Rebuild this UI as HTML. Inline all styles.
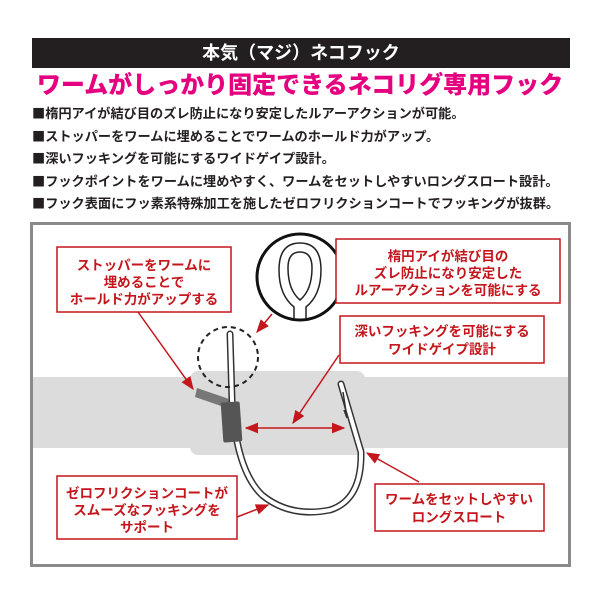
<!DOCTYPE html>
<html><head><meta charset="utf-8"><style>
html,body{margin:0;padding:0;background:#fff;}
body{width:600px;height:600px;overflow:hidden;position:relative;font-family:"Liberation Sans","Noto Sans CJK JP",sans-serif;}
.bar{position:absolute;left:32px;top:38px;width:538px;height:30px;background:#231f20;color:#fff;font-weight:bold;font-size:18px;line-height:30px;text-align:center;}
.title{position:absolute;left:0;top:70px;width:600px;text-align:center;color:#e4007f;font-weight:900;font-size:24px;line-height:32px;}
.list{position:absolute;left:32px;top:102px;font-size:13.2px;line-height:21.5px;color:#231f20;font-weight:bold;white-space:nowrap;}
.sq{font-family:"Noto Sans CJK JP",sans-serif;}
</style></head><body>
<div class="bar">本気（マジ）ネコフック</div>
<div class="title">ワームがしっかり固定できるネコリグ専用フック</div>
<div class="list"><span class="sq">■</span>楕円アイが結び目のズレ防止になり安定したルアーアクションが可能。<br><span class="sq">■</span>ストッパーをワームに埋めることでワームのホールド力がアップ。<br><span class="sq">■</span>深いフッキングを可能にするワイドゲイプ設計。<br><span class="sq">■</span>フックポイントをワームに埋めやすく、ワームをセットしやすいロングスロート設計。<br><span class="sq">■</span>フック表面にフッ素系特殊加工を施したゼロフリクションコートでフッキングが抜群。</div>
<svg width="600" height="600" style="position:absolute;left:0;top:0" font-family="Liberation Sans, Noto Sans CJK JP, sans-serif" font-weight="bold">
<defs><marker id="a" viewBox="0 0 10 10" refX="9" refY="5" markerWidth="9" markerHeight="9" orient="auto-start-reverse"><path d="M0,1 L10,5 L0,9 z" fill="#c4161c"/></marker></defs>
<rect x="31.5" y="223.5" width="538" height="342" fill="#fff" stroke="#8a8a8a" stroke-width="3"/>
<rect x="33" y="377" width="535" height="71" fill="#dcdcdc"/>
<rect x="190" y="371" width="175" height="84" rx="8" fill="#dcdcdc"/>
<path d="M230,334 L232,400 Q236,470 262,495 Q290,518 330,510 Q362,500 361,452 L341,384" fill="none" stroke="#333" stroke-width="7" stroke-linecap="round" stroke-linejoin="round"/>
<path d="M230,334 L232,400 Q236,470 262,495 Q290,518 330,510 Q362,500 361,452 L341,384" fill="none" stroke="#fff" stroke-width="4" stroke-linecap="round" stroke-linejoin="round"/>
<path d="M343,392 L347,418 L344,410" fill="none" stroke="#333" stroke-width="1.5"/>
<path d="M197,388 L229,399 L227,408 L195,397 z" fill="#777"/>
<rect x="222" y="402" width="19" height="40" rx="2" fill="#555" transform="rotate(-4 231 422)"/>
<circle cx="228" cy="357" r="30" fill="none" stroke="#222" stroke-width="2" stroke-dasharray="5,4"/>
<circle cx="300" cy="277" r="43" fill="#fff" stroke="#111" stroke-width="3"/>
<path d="M294,319 L294,307 Q279,295 279,270 Q279,243 300,243 Q321,243 321,270 Q321,295 306,307 L306,319" fill="none" stroke="#222" stroke-width="1.5"/>
<path d="M300,300 Q288,290 288,268 Q288,252 300,252 Q312,252 312,268 Q312,290 300,300 z" fill="none" stroke="#222" stroke-width="1.5"/>
<g stroke="#c4161c" stroke-width="1.5" fill="none">
<rect x="57" y="247" width="174" height="65" fill="#fff"/>
<rect x="336" y="239" width="224" height="64" fill="#fff"/>
<rect x="340" y="316" width="204" height="47" fill="#fff"/>
<rect x="57" y="476" width="180" height="63" fill="#fff"/>
<rect x="375" y="484" width="169" height="47" fill="#fff"/>
<line x1="138" y1="312" x2="193" y2="389" marker-end="url(#a)"/>
<line x1="272" y1="314" x2="257" y2="332" marker-end="url(#a)"/>
<line x1="339" y1="355" x2="293" y2="423" marker-end="url(#a)"/>
<line x1="246" y1="428" x2="344" y2="428" marker-start="url(#a)" marker-end="url(#a)"/>
<line x1="237" y1="517" x2="268" y2="505" marker-end="url(#a)"/>
<line x1="419" y1="482" x2="367" y2="453" marker-end="url(#a)"/>
</g>
<g fill="#c4161c" font-size="13.5" text-anchor="middle">
<text x="144" y="270">ストッパーをワームに</text>
<text x="144" y="287">埋めることで</text>
<text x="144" y="304">ホールド力がアップする</text>
<text x="448" y="261">楕円アイが結び目の</text>
<text x="448" y="278">ズレ防止になり安定した</text>
<text x="448" y="295">ルアーアクションを可能にする</text>
<text x="442" y="336">深いフッキングを可能にする</text>
<text x="442" y="354">ワイドゲイプ設計</text>
<text x="147" y="498">ゼロフリクションコートが</text>
<text x="147" y="515">スムーズなフッキングを</text>
<text x="147" y="532">サポート</text>
<text x="459" y="504">ワームをセットしやすい</text>
<text x="459" y="522">ロングスロート</text>
</g>
</svg>
</body></html>
